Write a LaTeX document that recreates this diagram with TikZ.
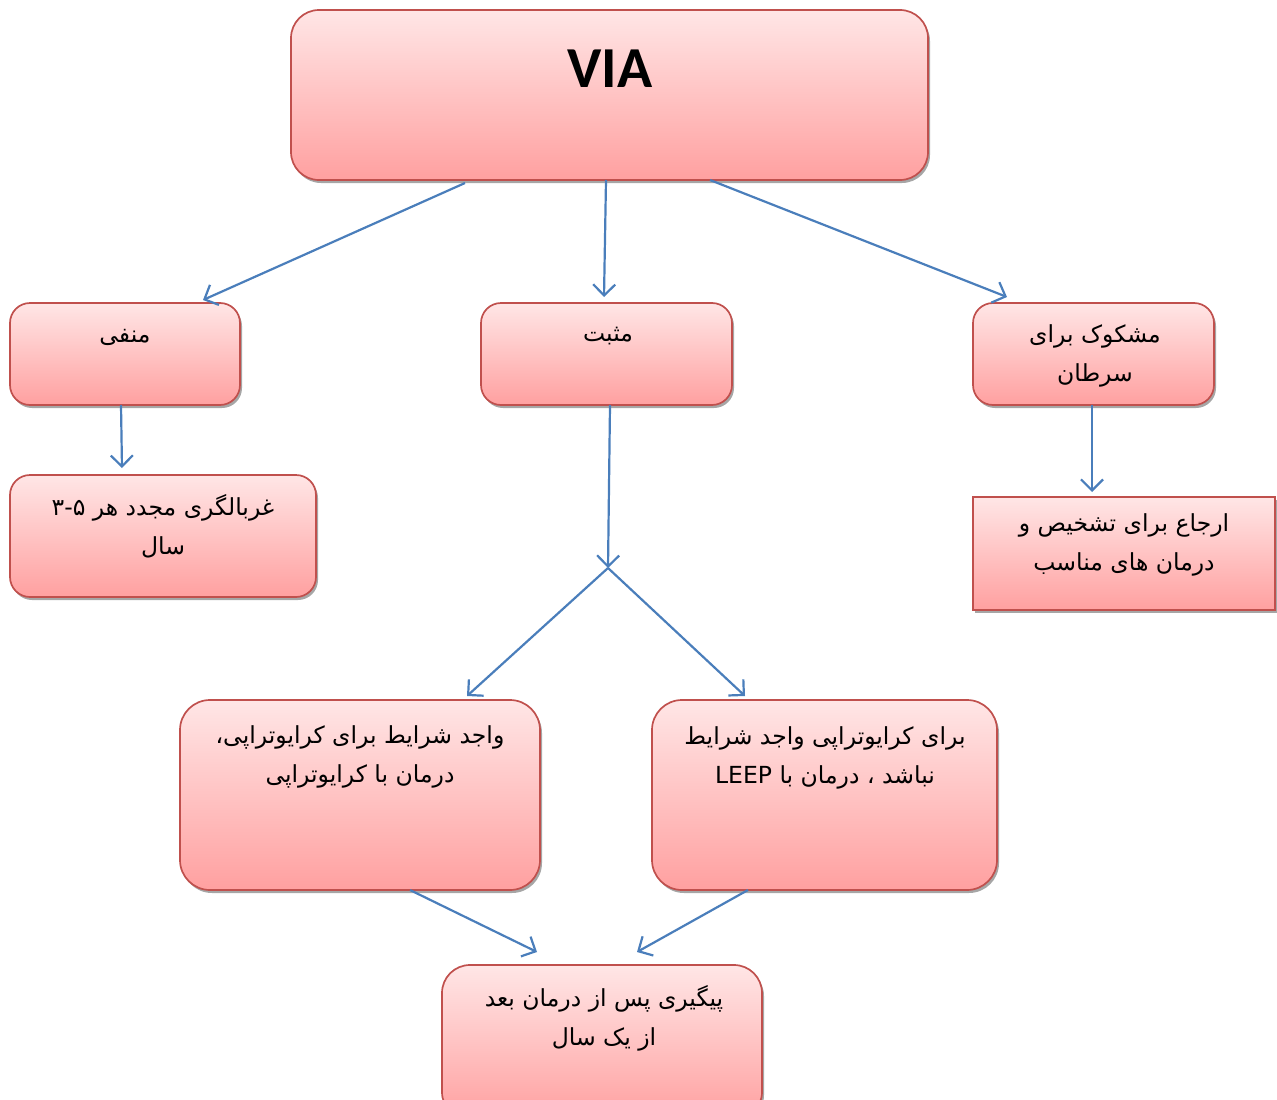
\documentclass[tikz,border=0pt]{standalone}
\usepackage{fontspec}
\usetikzlibrary{arrows.meta,shadows,calc}
\newfontfamily\arabicfont[Script=Arabic]{DejaVu Sans}
\newfontfamily\viafont{Carlito}
\TeXXeTstate=1
\definecolor{pinktop}{RGB}{255,230,230}
\definecolor{pinkbot}{RGB}{255,160,160}
\definecolor{boxborder}{RGB}{192,80,77}
\definecolor{arrowblue}{RGB}{74,126,187}
\begin{document}
\begin{tikzpicture}[x=1pt,y=-1pt,
  fcbox/.style={draw=boxborder, line width=1.7pt, top color=pinktop, bottom color=pinkbot,
    rounded corners=#1, inner sep=0pt, outer sep=0pt,
    drop shadow={shadow xshift=2pt, shadow yshift=-3pt, fill=black, opacity=0.35}},
  fcbox/.default=20pt,
  sqbox/.style={fcbox=0pt},
  txt/.style={align=center, inner sep=0pt, font=\arabicfont\fontsize{23.5}{39}\selectfont},
  arr/.style={draw=arrowblue, line width=2.2pt, -{Straight Barb[length=11pt,width=22pt,line width=2.2pt]}},
]
\useasboundingbox (0,0) rectangle (1277,1100);

% boxes
\node[fcbox=28pt, minimum width=637pt, minimum height=170pt] (via) at (609.5,95) {};
\node[fcbox, minimum width=230pt, minimum height=102pt] (neg) at (125,354) {};
\node[fcbox, minimum width=251pt, minimum height=102pt] (pos) at (606.5,354) {};
\node[fcbox, minimum width=241pt, minimum height=102pt] (susp) at (1093.5,354) {};
\node[fcbox, minimum width=306pt, minimum height=122pt] (rescreen) at (163,536) {};
\node[sqbox, minimum width=302pt, minimum height=113pt] (refer) at (1124,553.5) {};
\node[fcbox=30pt, minimum width=360pt, minimum height=190pt] (cryo) at (360,795) {};
\node[fcbox=30pt, minimum width=345pt, minimum height=190pt] (leep) at (824.5,795) {};
\node[fcbox=28pt, minimum width=320pt, minimum height=155pt] (follow) at (602,1042.5) {};

% texts
\node[inner sep=0pt, font=\viafont\bfseries\fontsize{58}{60}\selectfont] (viat) at (610,69) {VIA};
\node[txt] (negt) at (125,337) {\beginR منفی\endR};
\node[txt] (post) at (608,336) {\beginR مثبت\endR};
\node[txt] (suspt) at (1095,356) {\beginR مشکوک برای\endR\\\beginR سرطان\endR};
\node[txt] (rescreent) at (163,526) {\beginR غربالگری مجدد هر \beginL۳-۵\endL{}\endR\\\beginR سال\endR};
\node[txt] (refert) at (1124,545) {\beginR ارجاع برای تشخیص و\endR\\\beginR درمان های مناسب\endR};
\node[txt] (cryot) at (360,757) {\beginR واجد شرایط برای کرایوتراپی،\endR\\\beginR درمان با کرایوتراپی\endR};
\node[txt] (leept) at (825,758) {\beginR برای کرایوتراپی واجد شرایط\endR\\\beginR نباشد ، درمان با \beginL LEEP\endL{}\endR};
\node[txt] (followt) at (604,1018.5) {\beginR پیگیری پس از درمان بعد\endR\\\beginR از یک سال\endR};

% junction
\coordinate (j) at (608,568);

% connectors
\draw[arr] ([xshift=-144.5pt,yshift=-3pt]via.south) -- ([xshift=78pt,yshift=3pt]neg.north);
\draw[arr] ([xshift=-3.5pt]via.south) -- ([xshift=-2.5pt,yshift=6pt]pos.north);
\draw[arr] ([xshift=100.5pt]via.south) -- ([xshift=-86.5pt,yshift=6pt]susp.north);
\draw[arr] ([xshift=-4pt]neg.south) -- ([xshift=-41pt,yshift=7pt]rescreen.north);
\draw[arr] ([xshift=3.5pt]pos.south) -- (j);
\draw[arr] (j) -- ([xshift=107pt,yshift=4pt]cryo.north);
\draw[arr] (j) -- ([xshift=-79.5pt,yshift=4pt]leep.north);
\draw[arr] ([xshift=-1.5pt]susp.south) -- ([xshift=-32pt,yshift=5pt]refer.north);
\draw[arr] ([xshift=50pt]cryo.south) -- ([xshift=-65pt,yshift=13pt]follow.north);
\draw[arr] ([xshift=-76.5pt]leep.south) -- ([xshift=35pt,yshift=13pt]follow.north);
\end{tikzpicture}
\end{document}
